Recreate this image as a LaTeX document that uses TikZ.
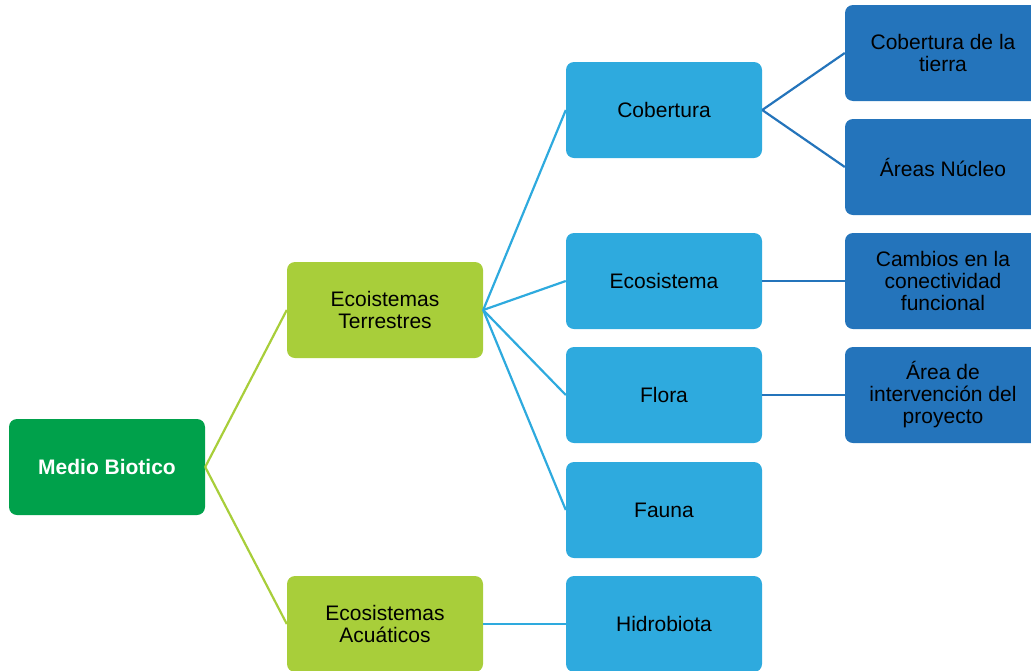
\documentclass[tikz,border=0pt]{standalone}
\usepackage{fontspec}
\setmainfont{Liberation Sans}
\definecolor{dgreen}{HTML}{00A14B}
\definecolor{lgreen}{HTML}{A8CE3A}
\definecolor{mblue}{HTML}{2EAADE}
\definecolor{dblue}{HTML}{2474BB}
\begin{document}
\begin{tikzpicture}[x=1pt,y=-1pt,
  box/.style={rectangle, rounded corners=8pt, minimum width=196pt, minimum height=96pt,
    inner sep=0pt, draw=none, align=center, text=black,
    font=\fontsize{21}{22}\selectfont},
  rootbox/.style={box, fill=dgreen, text=white, font=\fontsize{21}{22}\selectfont\bfseries},
  l1box/.style={box, fill=lgreen},
  l2box/.style={box, fill=mblue},
  l3box/.style={box, fill=dblue},
  glink/.style={draw=lgreen, line width=2.2pt},
  blink/.style={draw=mblue, line width=2.2pt},
  dlink/.style={draw=dblue, line width=2.2pt}]
\useasboundingbox (0,0) rectangle (1031,670);
\clip (0,0) rectangle (1031,670);
\node[rootbox] (medio) at (107,467) {Medio Biotico};
\node[l1box] (terr) at (385,310) {Ecoistemas\\Terrestres};
\node[l1box] (acua) at (385,624) {Ecosistemas\\Acuáticos};
\node[l2box] (cob) at (664,110) {Cobertura};
\node[l2box] (eco) at (664,281) {Ecosistema};
\node[l2box] (flora) at (664,395) {Flora};
\node[l2box] (fauna) at (664,510) {Fauna};
\node[l2box] (hidro) at (664,624) {Hidrobiota};
\node[l3box] (cobt) at (943,53) {Cobertura de la\\tierra};
\node[l3box] (areas) at (943,167) {Áreas Núcleo};
\node[l3box] (camb) at (943,281) {Cambios en la\\conectividad\\funcional};
\node[l3box] (inter) at (943,395) {Área de\\intervención del\\proyecto};
\draw[glink] (medio.east) -- (terr.west);
\draw[glink] (medio.east) -- (acua.west);
\draw[blink] (terr.east) -- (cob.west);
\draw[blink] (terr.east) -- (eco.west);
\draw[blink] (terr.east) -- (flora.west);
\draw[blink] (terr.east) -- (fauna.west);
\draw[blink] (acua.east) -- (hidro.west);
\draw[dlink] (cob.east) -- (cobt.west);
\draw[dlink] (cob.east) -- (areas.west);
\draw[dlink] (eco.east) -- (camb.west);
\draw[dlink] (flora.east) -- (inter.west);
\end{tikzpicture}
\end{document}
